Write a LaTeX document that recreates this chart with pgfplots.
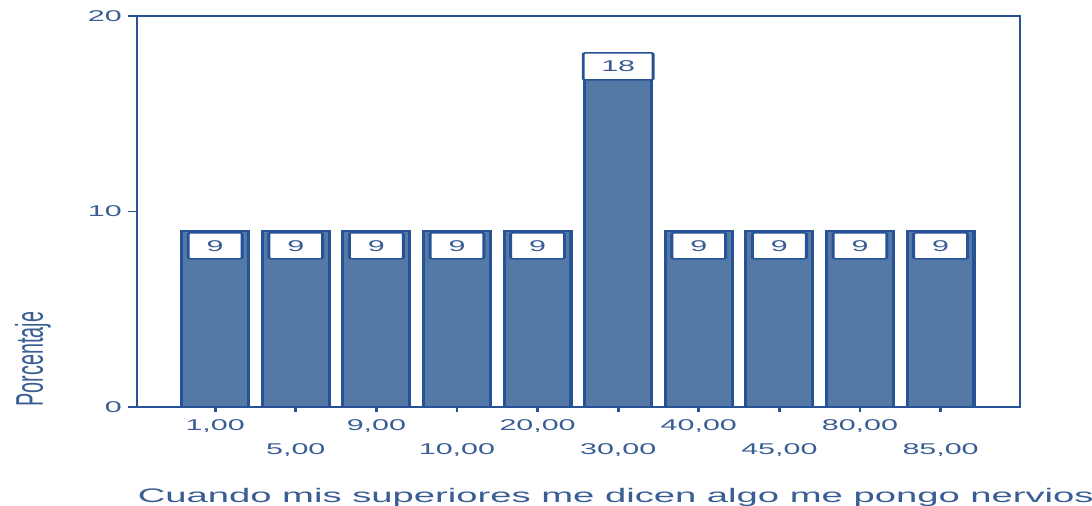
\documentclass[border=0pt]{standalone}
\usepackage{pgfplots}
\pgfplotsset{compat=1.18}
\usepackage{fontspec}
\setmainfont{Liberation Sans}
\definecolor{barfill}{RGB}{84,121,166}
\definecolor{edgeblue}{RGB}{40,82,150}
\definecolor{txtblue}{RGB}{58,94,148}
\begin{document}
\begin{tikzpicture}
\begin{scope}[transform canvas={xscale=1.95}]
\begin{axis}[
  at={(0pt,0pt)}, anchor=south west,
  scale only axis, width=226.4pt, height=195.5pt,
  xmin=-0.97, xmax=9.985, ymin=0, ymax=20,
  axis line style={edgeblue, line width=0.75pt},
  ytick={0,10,20},
  xtick={0,2,4,6,8},
  xticklabels={{1,00},{9,00},{20,00},{40,00},{80,00}},
  extra x ticks={1,3,5,7,9},
  extra x tick labels={{5,00},{10,00},{30,00},{45,00},{85,00}},
  extra x tick style={xticklabel style={yshift=-12pt}},
  tick align=outside, tick pos=left,
  major tick length=2.4pt,
  tick style={edgeblue, line width=0.75pt},
  ticklabel style={font=\fontsize{7.8}{9}\selectfont, text=txtblue},
  xticklabel style={anchor=north, inner sep=0pt, yshift=-3.5pt},
  yticklabel style={anchor=east, inner sep=0pt, xshift=-1.3pt},
  /pgf/number format/assume math mode=true,
  xlabel={Cuando mis superiores me dicen algo me pongo nervios},
  xlabel style={at={(axis description cs:0,-0.2455)}, anchor=base west, inner sep=0pt, font=\fontsize{9.8}{12}\selectfont, text=txtblue},
  ylabel={Porcentaje},
  ylabel style={at={(axis description cs:-0.1065,0)}, anchor=base west, rotate=0, inner sep=0pt, font=\fontsize{9.9}{11}\selectfont, text=txtblue},
]
\addplot[ybar, bar width=0.83, bar shift=0pt, fill=barfill, draw=edgeblue, line width=0.8pt,
  nodes near coords, nodes near coords align={anchor=north},
  every node near coord/.append style={fill=white, draw=edgeblue, line width=0.75pt, inner sep=0pt,
    minimum width=13.8pt, minimum height=13pt, yshift=-0.5pt, rounded corners=0.6pt,
    font=\fontsize{7.8}{9}\selectfont, text=txtblue}]
  coordinates {(0,9) (1,9) (2,9) (3,9) (4,9) (6,9) (7,9) (8,9) (9,9)};
\addplot[ybar, bar width=0.83, bar shift=0pt, fill=barfill, draw=edgeblue, line width=0.8pt,
  nodes near coords, nodes near coords align={anchor=north},
  every node near coord/.append style={fill=white, draw=edgeblue, line width=0.75pt, inner sep=0pt,
    minimum width=17.9pt, minimum height=13.5pt, yshift=1.5pt, rounded corners=0.6pt,
    font=\fontsize{7.8}{9}\selectfont, text=txtblue}]
  coordinates {(5,18)};
\end{axis}
\end{scope}
\pgfresetboundingbox
\useasboundingbox (-68.5pt,-49.5pt) rectangle (477.5pt,203.5pt);
\end{tikzpicture}
\end{document}
